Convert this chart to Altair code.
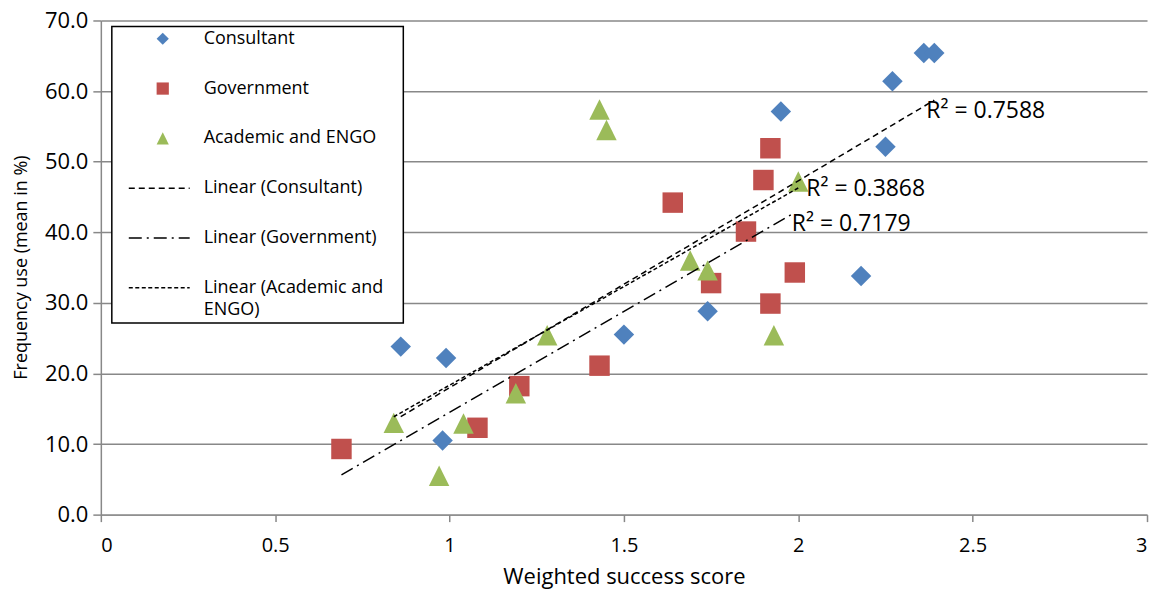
import altair as alt
import pandas as pd

# ---------------- data ----------------
groups = ["Consultant", "Government", "Academic and ENGO"]
colors = ["#4F81BD", "#C0504D", "#9BBB59"]

consultant_x = [0.86, 0.99, 0.98, 1.50, 1.74, 1.95, 2.18, 2.25, 2.27, 2.36, 2.39]
consultant_y = [23.8, 22.2, 10.5, 25.5, 28.8, 57.1, 33.8, 52.1, 61.4, 65.4, 65.4]

government_x = [0.69, 1.08, 1.20, 1.43, 1.64, 1.75, 1.85, 1.90, 1.92, 1.92, 1.99]
government_y = [9.3, 12.3, 18.2, 21.1, 44.2, 32.8, 40.1, 47.4, 51.9, 29.9, 34.3]

academic_x = [0.84, 0.97, 1.04, 1.19, 1.28, 1.43, 1.45, 1.69, 1.74, 1.93, 2.00]
academic_y = [13.0, 5.5, 12.9, 17.2, 25.4, 57.4, 54.5, 36.0, 34.6, 25.4, 47.2]

r_squared = [0.7588, 0.7179, 0.3868]

x_ticks = [0, 0.5, 1, 1.5, 2, 2.5, 3]
y_ticks = [0, 10, 20, 30, 40, 50, 60, 70]

trend_labels = ["Linear (" + g + ")" for g in groups]

# ---------------- tables ----------------
rows = []
for g, xs, ys in zip(groups, [consultant_x, government_x, academic_x],
                     [consultant_y, government_y, academic_y]):
    for a, b in zip(xs, ys):
        rows.append({"group": g, "x": a, "y": b})
df = pd.DataFrame(rows)

FONT = "Open Sans"
TRI = "M-1,1L0,-1L1,1Z"
shapes = ["diamond", "square", TRI]
dashes = [[6, 4], [13, 5, 2, 5], [4, 2.5]]

xscale = alt.Scale(domain=[0, 3], nice=False, zero=False)
yscale = alt.Scale(domain=[0, 70], nice=False, zero=False)

x_axis = alt.Axis(values=x_ticks, format="~g", grid=False, domainColor="#888888", domainWidth=1.5,
                  tickColor="#888888", tickWidth=1.5, tickSize=7, labelFont=FONT,
                  labelFontSize=20, labelColor="black", labelPadding=14,
                  title="Weighted success score", titleFont=FONT, titleFontSize=22,
                  titleFontWeight="normal", titleColor="black", titleY=69,
                  titleBaseline="alphabetic")
y_axis = alt.Axis(values=y_ticks, format=".1f", grid=True, gridColor="#888888",
                  gridWidth=1.5, domainColor="#888888", domainWidth=1.5,
                  tickColor="#888888", tickWidth=1.5, tickSize=8, labelFont=FONT,
                  labelFontSize=22, labelColor="black", labelPadding=5,
                  title="Frequency use (mean in %)", titleFont=FONT, titleFontSize=18,
                  titleFontWeight="normal", titleColor="black", titleAngle=270,
                  titleX=-79, titleY=247, titleAlign="center", titleBaseline="middle")

base = alt.Chart(df)

points = base.mark_point(filled=True, opacity=1, size=420, strokeWidth=0).encode(
    x=alt.X("x:Q", scale=xscale, axis=x_axis),
    y=alt.Y("y:Q", scale=yscale, axis=y_axis),
    color=alt.Color("group:N", scale=alt.Scale(domain=groups, range=colors), legend=None),
    shape=alt.Shape("group:N", scale=alt.Scale(domain=groups, range=shapes), legend=None),
)

trend = base.transform_regression("x", "y", groupby=["group"]).mark_line(
    color="black", strokeWidth=1.5
).encode(
    x=alt.X("x:Q", scale=xscale),
    y=alt.Y("y:Q", scale=yscale),
    strokeDash=alt.StrokeDash("group:N", scale=alt.Scale(domain=groups, range=dashes), legend=None),
)

# R² labels placed at the right end of each fitted line
offsets = {"Consultant": (-8, 11), "Government": (-3, 11), "Academic and ENGO": (8, 1)}
r2_layers = []
for g, r in zip(groups, r_squared):
    dx, dy = offsets[g]
    r2_layers.append(
        base.transform_filter(alt.datum.group == g)
        .transform_regression("x", "y")
        .transform_joinaggregate(xm="max(x)")
        .transform_filter("datum.x == datum.xm")
        .mark_text(align="left", baseline="middle", dx=dx, dy=dy, font=FONT, fontSize=23,
                   color="black", text=f"R² = {r:.4f}")
        .encode(x=alt.X("x:Q", scale=xscale), y=alt.Y("y:Q", scale=yscale))
    )

# ---------------- legend (drawn in pixel space inside the plot) ----------------
dummy = alt.Chart(pd.DataFrame({"k": [0]}))
legend_layers = [
    dummy.mark_rect(fill="white", stroke="black", strokeWidth=1.5).encode(
        x=alt.value(11), x2=alt.value(303), y=alt.value(6), y2=alt.value(303))
]
row_y = [18.3 + 49.9 * i for i in range(6)]
for i, g in enumerate(groups):
    legend_layers.append(
        dummy.mark_point(filled=True, opacity=1, size=150, strokeWidth=0, shape=shapes[i],
                         color=colors[i]).encode(x=alt.value(62), y=alt.value(row_y[i])))
    legend_layers.append(
        dummy.mark_text(align="left", baseline="middle", font=FONT, fontSize=18, color="black",
                        text=g).encode(x=alt.value(103), y=alt.value(row_y[i])))
for i, lab in enumerate(trend_labels):
    yy = row_y[3 + i]
    legend_layers.append(
        dummy.mark_rule(color="black", strokeWidth=1.5, strokeDash=dashes[i]).encode(
            x=alt.value(28), x2=alt.value(89), y=alt.value(yy)))
    if len(lab) > 22:
        cut = lab.rfind(" ", 0, 22)
        parts = [lab[:cut], lab[cut + 1:]]
    else:
        parts = [lab]
    for j, p in enumerate(parts):
        legend_layers.append(
            dummy.mark_text(align="left", baseline="middle", font=FONT, fontSize=18,
                            color="black", text=p).encode(
                x=alt.value(103), y=alt.value(yy + 22.5 * j)))

chart = alt.layer(points, trend, *r2_layers, *legend_layers).properties(
    width=1048, height=495,
    padding={"left": 93, "top": 12, "right": 10, "bottom": 75},
    autosize=alt.AutoSizeParams(type="none"),
).configure_view(strokeWidth=0)

chart.save("out.html", embed_options={"renderer": "svg", "actions": False})
